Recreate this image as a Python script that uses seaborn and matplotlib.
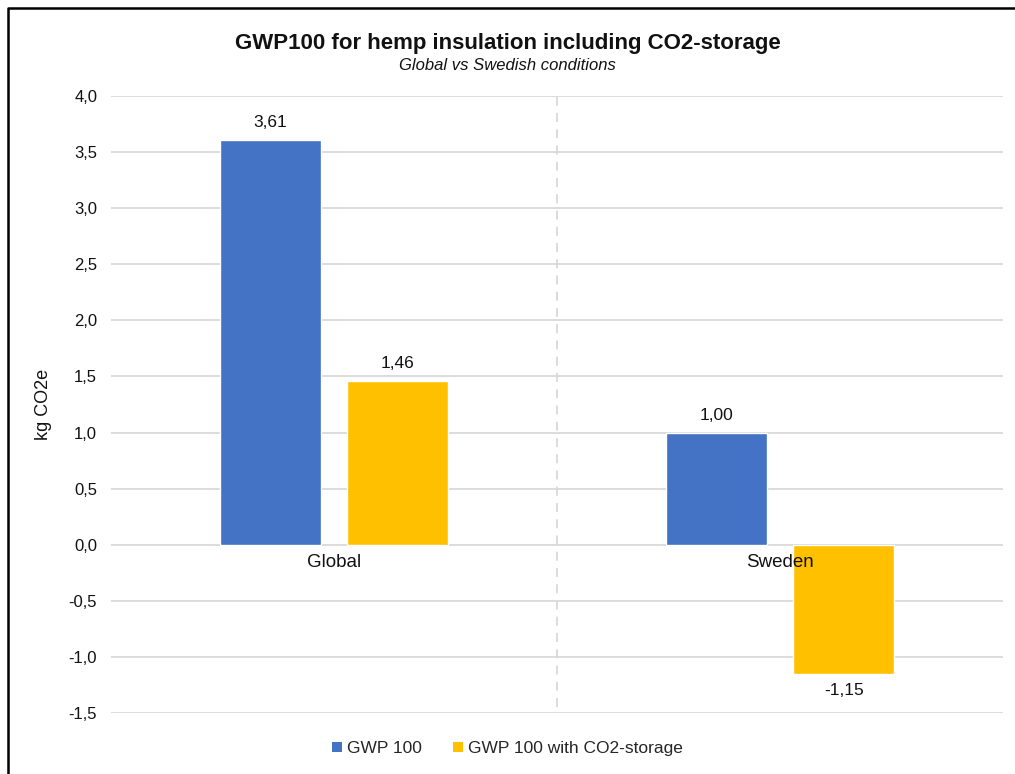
import matplotlib
matplotlib.use("Agg")
import matplotlib.pyplot as plt
import seaborn as sns
import pandas as pd
from matplotlib.lines import Line2D
from matplotlib.patches import Patch

categories = ["Global", "Sweden"]
series_names = ["GWP 100", "GWP 100 with CO2-storage"]
gwp100 = [3.61, 1.00]
gwp100_storage = [1.46, -1.15]
y_ticks = [-1.5, -1.0, -0.5, 0.0, 0.5, 1.0, 1.5, 2.0, 2.5, 3.0, 3.5, 4.0]
colors = ["#4472C4", "#FFC000"]

df = pd.DataFrame({
    "category": categories * 2,
    "series": [series_names[0]] * 2 + [series_names[1]] * 2,
    "value": gwp100 + gwp100_storage,
})

sns.set_theme(style="white")
plt.rcParams["font.family"] = ["Liberation Sans", "DejaVu Sans"]

fig = plt.figure(figsize=(10.15, 7.74), dpi=100)
ax = fig.add_axes([0.1094, 0.0788, 0.8786, 0.7972])

sns.barplot(data=df, x="category", y="value", hue="series", order=categories,
            hue_order=series_names, palette=colors, width=0.572, gap=0.208,
            saturation=1, ax=ax, legend=False, errorbar=None)

ax.set_ylim(-1.5, 4.0)
ax.set_xlim(-0.5, 1.5)
ax.set_yticks(y_ticks)
ax.set_yticklabels([f"{t:.1f}".replace(".", ",") for t in y_ticks], fontsize=12, color="#111111")
ax.yaxis.grid(True, color="#d9d9d9", linewidth=1.3)
ax.set_axisbelow(True)
for s in ["left", "right", "top", "bottom"]:
    ax.spines[s].set_visible(False)
ax.tick_params(axis="both", length=0)
ax.tick_params(axis="y", pad=10)
ax.set_xticks([])
ax.set_xlabel("")
ax.set_ylabel("kg CO2e", fontsize=13, color="#111111")
ax.yaxis.set_label_coords(-0.066, 0.5)

for i, c in enumerate(categories):
    ax.annotate(c, (i, 0), xytext=(0, -7), textcoords="offset points",
                ha="center", va="top", fontsize=13.5, color="#111111", zorder=5)

ax.axvline(0.5, ymin=0.01, ymax=1.0, color="#d9d9d9", linestyle=(0, (5, 4)), linewidth=1.3)

for cont in ax.containers:
    vals = [b.get_height() for b in cont]
    ax.bar_label(cont, labels=[f"{v:.2f}".replace(".", ",") for v in vals],
                 padding=7, fontsize=12.5, color="#111111")

fig.text(0.5, 0.944, "GWP100 for hemp insulation including CO2-storage",
         ha="center", va="center", fontsize=16, fontweight="bold", color="#111111")
fig.text(0.5, 0.916, "Global vs Swedish conditions", ha="center", va="center",
         fontsize=12, fontstyle="italic", color="#111111")

handles = [Patch(facecolor=c, edgecolor="none") for c in colors]
fig.legend(handles, series_names, loc="center", bbox_to_anchor=(0.5, 0.033), ncol=2,
           frameon=False, fontsize=12.5, handlelength=0.55, handleheight=0.55,
           handletextpad=0.3, columnspacing=1.8)

x0 = 8 / 1015
y0 = 1 - 8 / 774
fig.add_artist(Line2D([x0, x0, 1.0], [0.0, y0, y0], color="black", linewidth=1.8,
                      transform=fig.transFigure))

fig.savefig("out.png", dpi=100)
